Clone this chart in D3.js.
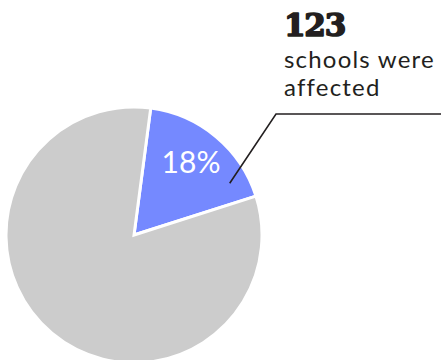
<!DOCTYPE html>
<html>
<head>
<meta charset="utf-8">
<script src="https://cdn.jsdelivr.net/npm/d3@7"></script>
<style>
  html, body { margin: 0; padding: 0; background: #fff; }
  svg { display: block; }
</style>
</head>
<body>
<svg id="chart" width="441" height="360"></svg>
<script>
// Share of schools affected vs. not affected
const categories = ["Affected", "Not affected"];
const shares = [18, 82];
const sliceColors = ["#7589ff", "#cccccc"];
const affectedCount = 123;
const calloutLines = ["schools were", "affected"];

const svg = d3.select("#chart");
const cx = 134, cy = 235, radius = 128;
const startOffset = 7.5 * Math.PI / 180;

const pie = d3.pie().sort(null).value(d => d.value)
  .startAngle(startOffset).endAngle(startOffset + 2 * Math.PI);
const arcs = pie(categories.map((c, i) => ({ cat: c, value: shares[i] })));
const arc = d3.arc().innerRadius(0).outerRadius(radius);

const g = svg.append("g").attr("transform", `translate(${cx},${cy})`);
g.selectAll("path").data(arcs).join("path")
  .attr("d", arc)
  .attr("fill", (d, i) => sliceColors[i])
  .attr("stroke", "#fff")
  .attr("stroke-width", 3)
  .attr("stroke-linejoin", "miter");

// Percentage label inside the highlighted slice
const a0 = arcs[0];
const mid = (a0.startAngle + a0.endAngle) / 2;
const lr = radius * 0.73;
const lAng = mid - 2.3 * Math.PI / 180;
g.append("text")
  .attr("x", Math.sin(lAng) * lr)
  .attr("y", -Math.cos(lAng) * lr)
  .attr("text-anchor", "middle")
  .attr("dominant-baseline", "central")
  .attr("fill", "#fff")
  .attr("font-family", "Lato, sans-serif")
  .attr("font-size", 30)
  .text(d3.format("d")(a0.data.value) + "%");

// Leader line from the slice to the callout
const pr = radius * 0.85;
const pAng = 61.6 * Math.PI / 180;
const px = cx + Math.sin(pAng) * pr, py = cy - Math.cos(pAng) * pr;
svg.append("path")
  .attr("d", `M${px},${py} L276,114 L441,114`)
  .attr("fill", "none")
  .attr("stroke", "#231f20")
  .attr("stroke-width", 1.6);

// Callout text
const t = svg.append("g").attr("fill", "#231f20");
t.append("text")
  .attr("x", 284).attr("y", 36)
  .attr("font-family", "'DejaVu Serif', serif")
  .attr("font-weight", 900)
  .attr("font-size", 31)
  .attr("letter-spacing", -1.2)
  .attr("stroke", "#231f20")
  .attr("stroke-width", 1.6)
  .attr("stroke-linejoin", "round")
  .text(affectedCount);
t.selectAll("text.line").data(calloutLines).join("text")
  .attr("class", "line")
  .attr("x", 284)
  .attr("y", (d, i) => 68 + i * 28)
  .attr("font-family", "Lato, sans-serif")
  .attr("font-size", 24)
  .attr("letter-spacing", 1.2)
  .text(d => d);
</script>
</body>
</html>
